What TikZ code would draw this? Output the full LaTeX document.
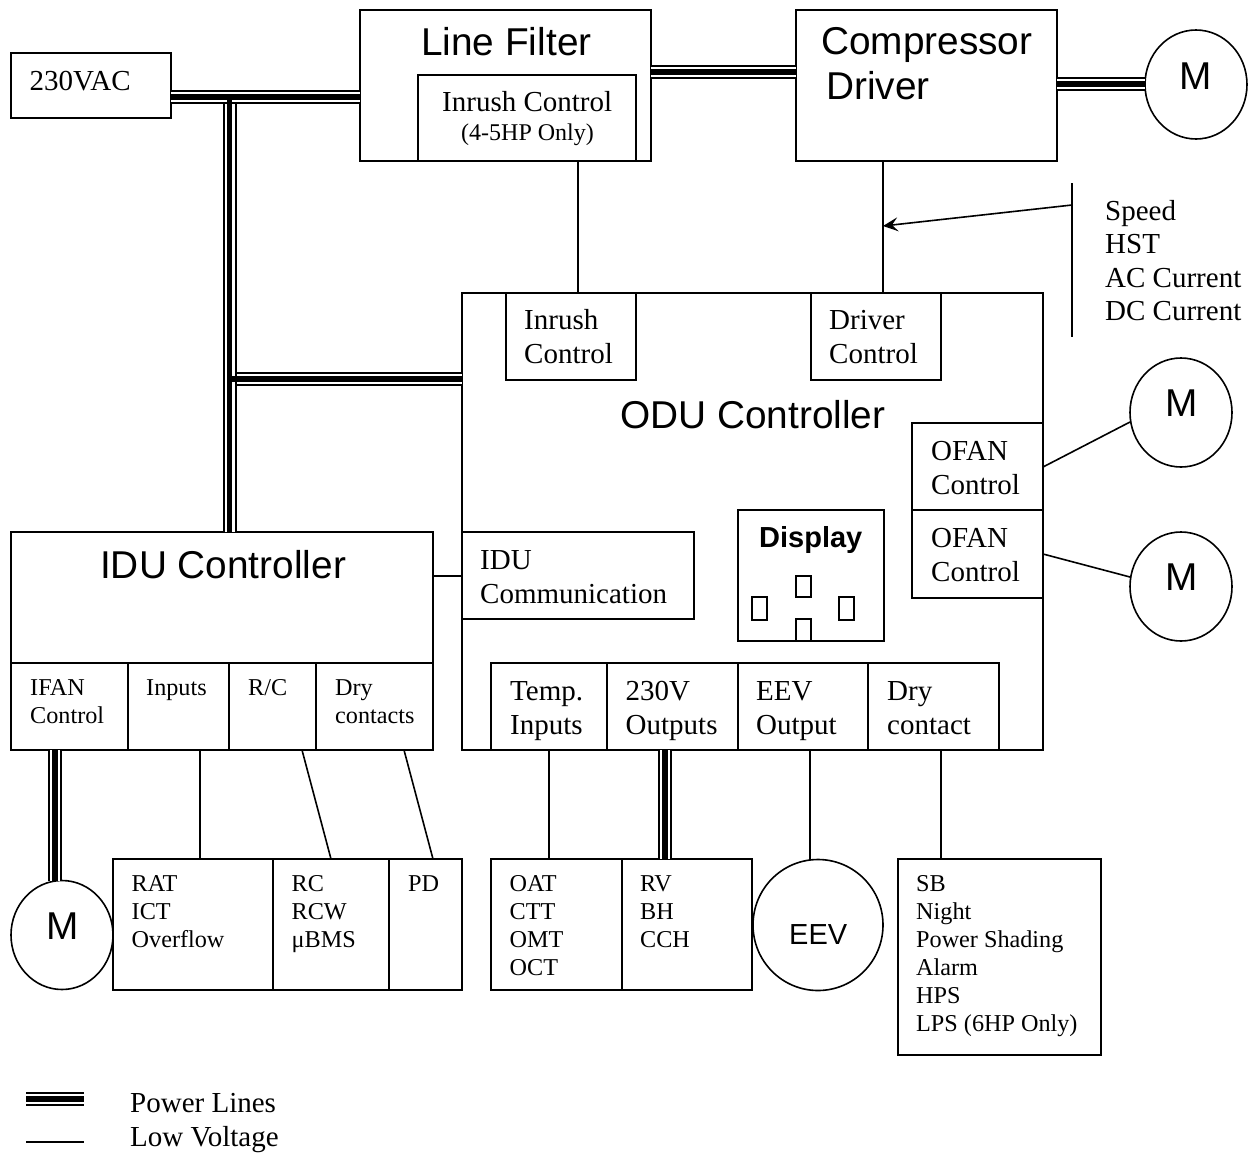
\documentclass[tikz,border=0pt]{standalone}
\usepackage{fontspec}
\setmainfont{Liberation Serif}
\newfontfamily\arialfont{Liberation Sans}
\usetikzlibrary{calc, shapes.geometric, arrows.meta}

\tikzset{
  blk/.style={draw, rectangle, inner sep=0pt, outer sep=0pt, line width=1.6pt},
  mtr/.style={draw, ellipse, inner sep=0pt, outer sep=0pt, line width=1.6pt},
  thin line/.style={line width=1.6pt},
  powerline/.style={line width=14pt, black,
    postaction={draw, white, line width=10pt},
    postaction={draw, black, line width=5.5pt}},
  bridge/.style={line width=5.5pt, black},
  txtm/.style={anchor=north west, align=left, inner sep=0pt,
    font=\fontsize{29}{34}\selectfont},
  txts/.style={anchor=north west, align=left, inner sep=0pt,
    font=\fontsize{24.2}{28}\selectfont},
  ttl/.style={anchor=north west, align=left, inner sep=0pt,
    font=\arialfont\fontsize{38.8}{45}\selectfont},
}

\begin{document}
\begin{tikzpicture}[x=1pt, y=-1pt]
  \useasboundingbox (0,0) rectangle (1250,1154);

  % boxes, given by their corners
  \foreach \nm/\xa/\ya/\xb/\yb in {
      vac/11/53/171/118, filter/360/10/651/161, inrushtop/418/75/636/161,
      driver/796/10/1057/161, odu/462/293/1043/750,
      inrush/506/293/636/380, drvctl/811/293/941/380,
      ofana/912/423/1043/510, ofanb/912/510/1043/598,
      display/738/510/884/641, iducomm/462/532/694/619,
      temp/491/663/607/750, outv/607/663/738/750,
      eevout/738/663/868/750, drycon/868/663/999/750,
      idu/11/532/433/663, ifan/11/663/128/750, inputs/128/663/229/750,
      rc/229/663/316/750, drycs/316/663/433/750,
      rat/113/859/273/990, rcw/273/859/389/990, pd/389/859/462/990,
      oat/491/859/622/990, rv/622/859/752/990, sb/898/859/1101/1055,
      dspa/796/576/811/597, dspb/752/597/767/620,
      dspc/839/597/854/620, dspd/796/619/811/641}
    \node[blk, minimum width={(\xb-\xa)*1pt}, minimum height={(\yb-\ya)*1pt}]
      (\nm) at ({(\xa+\xb)/2},{(\ya+\yb)/2}) {};

  % motors
  \node[mtr, minimum width=102pt, minimum height=109pt] (mtop) at (1196,84.5) {};
  \node[mtr, minimum width=102pt, minimum height=109pt] (mfana) at (1181,412.5) {};
  \node[mtr, minimum width=102pt, minimum height=109pt] (mfanb) at (1181,586.5) {};
  \node[mtr, minimum width=102pt, minimum height=109pt] (mifan) at (62,935) {};
  \node[mtr, minimum width=130pt, minimum height=131pt] (eev) at (818,925) {};

  % power lines
  \coordinate (tjoina) at (229.5,97);
  \coordinate (tjoinb) at (229.5,379);
  \draw[powerline] (idu.north -| tjoina) -- (229.5,104);
  \draw[bridge] (tjoina) -- (229.5,105);
  \draw[powerline] (vac.east |- tjoina) -- (filter.west |- tjoina);
  \draw[bridge] (tjoina) -- (229.5,105);
  \draw[powerline] (236.5,379) -- (odu.west |- tjoinb);
  \draw[bridge] (tjoinb) -- (237,379);
  \draw[powerline] (filter.east |- 0,72) -- (driver.west |- 0,72);
  \draw[powerline] (driver.east |- 0,84) -- (mtop.west |- 0,84);
  \draw[powerline] (ifan.south -| 55,0) -- (mifan.north -| 55,0);
  \draw[powerline] (outv.south -| 665,0) -- (rv.north -| 665,0);

  % low voltage lines
  \draw[thin line] (inrushtop.south -| 578,0) -- (inrush.north -| 578,0);
  \draw[thin line] (driver.south -| 883,0) -- (drvctl.north -| 883,0);
  \coordinate (sensa) at (1072,183);
  \coordinate (sensb) at (1072,337);
  \coordinate (sensc) at (1072,205);
  \coordinate (sensd) at (883,226);
  \draw[thin line] (sensa) -- (sensb);
  \draw[thin line, -{Stealth[length=15pt, width=14pt, inset=6pt]}] (sensc) -- (sensd);
  \draw[thin line] (ofana.east |- 0,467) -- (mfana.west |- 0,422);
  \draw[thin line] (ofanb.east |- 0,554) -- (mfanb.west |- 0,577);
  \draw[thin line] (idu.east |- 0,576) -- (iducomm.west |- 0,576);
  \draw[thin line] (inputs.south -| 200,0) -- (rat.north -| 200,0);
  \draw[thin line] (rc.south -| 302,0) -- (rcw.north -| 331,0);
  \draw[thin line] (drycs.south -| 404,0) -- (pd.north -| 433,0);
  \draw[thin line] (temp.south -| 549,0) -- (oat.north -| 549,0);
  \draw[thin line] (eevout.south -| 810,0) -- (eev.north -| 810,0);
  \draw[thin line] (drycon.south -| 941,0) -- (sb.north -| 941,0);

  % titles
  \node[ttl] (filtertxt) at (421,27.5) {Line Filter};
  \node[ttl] (drivertxt) at (821,27.5) {Compressor\\ \hspace*{5pt}Driver};
  \node[ttl] (odutxt) at (620,400) {ODU Controller};
  \node[ttl] (idutxt) at (100,550) {IDU Controller};
  \node[ttl] at (1179,63) {M};
  \node[ttl] at (1165,390) {M};
  \node[ttl] at (1165,564) {M};
  \node[ttl] at (46,913) {M};
  \node[anchor=north west, inner sep=0pt, font=\arialfont\fontsize{29}{34}\selectfont] (eevtxt) at (789,924) {EEV};
  \node[anchor=north west, inner sep=0pt, font=\arialfont\bfseries\fontsize{29}{34}\selectfont] (disptxt) at (759,526) {Display};

  % texts
  \foreach \x/\y/\txt in {
      29.5/71/230VAC, 442/91/Inrush Control,
      524/309/{Inrush\\ Control}, 829/310/{Driver\\ Control},
      1105/200/{Speed\\[-0.6pt] HST\\[-0.6pt] AC Current\\[-0.6pt] DC Current},
      931/441/{OFAN\\ Control}, 931/528/{OFAN\\ Control},
      480/550/{IDU\\ Communication},
      510/681/{Temp.\\ Inputs}, 625.5/681/{230V\\ Outputs},
      756/681/{EEV\\ Output}, 887/681/{Dry\\ contact},
      130/1093/{Power Lines\\ Low Voltage}}
    \node[txtm] at (\x,\y) {\txt};

  \foreach \x/\y/\txt in {
      30/679/{IFAN\\ Control}, 146/679/Inputs, 248/679/{R/C},
      335/679/{Dry\\ contacts},
      131.5/875/{RAT\\ ICT\\ Overflow}, 291.5/875/{RC\\ RCW\\ μBMS},
      408/875/PD,
      509.5/875/{OAT\\ CTT\\ OMT\\ OCT}, 640/875/{RV\\ BH\\ CCH},
      916/875/{SB\\ Night\\ Power Shading\\ Alarm\\ HPS\\ LPS (6HP Only)}}
    \node[txts] at (\x,\y) {\txt};

  \node[anchor=north west, inner sep=0pt, font=\fontsize{24}{28}\selectfont] (onlytxt) at (461,124) {(4-5HP Only)};

  % legend
  \coordinate (lega) at (26,1099);
  \coordinate (legb) at (84,1099);
  \coordinate (legc) at (26,1142);
  \coordinate (legd) at (84,1142);
  \draw[powerline] (lega) -- (legb);
  \draw[thin line] (legc) -- (legd);
\end{tikzpicture}
\end{document}
